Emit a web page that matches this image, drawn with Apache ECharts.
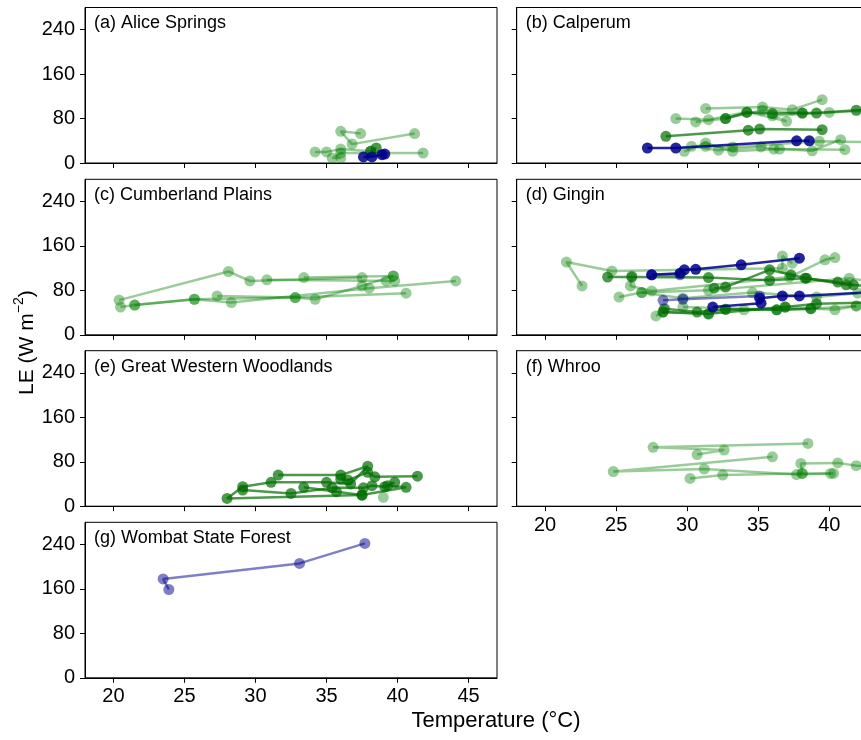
<!DOCTYPE html>
<html>
<head>
<meta charset="utf-8">
<script src="https://cdn.jsdelivr.net/npm/echarts@6/dist/echarts.min.js"></script>
<style>
  html, body { margin: 0; padding: 0; background: #fff; }
  #chart { width: 861px; height: 740px; }
</style>
</head>
<body>
<div id="chart"></div>
<script>
// Daily latent heat flux (LE) against air temperature at seven flux sites.
// Each track is one sequence of days, drawn as a connected line of points [T (°C), LE (W m-2)].

const xTicks = [20, 25, 30, 35, 40, 45];
const yTicks = [0, 80, 160, 240];

const panelTitles = [
  '(a) Alice Springs', '(b) Calperum', '(c) Cumberland Plains', '(d) Gingin',
  '(e) Great Western Woodlands', '(f) Whroo', '(g) Wombat State Forest'
];

// (a) Alice Springs
const aliceLight = [
  [[37.4, 53], [36.0, 57], [36.8, 34], [41.2, 53]],
  [[34.2, 20], [35.0, 20], [36.0, 25], [38.1, 21]],
  [[36.0, 9], [35.4, 9], [36.0, 18], [41.8, 18]]
];
const aliceDark = [[[38.1, 21], [38.5, 27]]];
const aliceBlue = [[[37.6, 11], [38.2, 11], [38.9, 15], [39.1, 16]]];

// (b) Calperum
const calperumLight = [
  [[31.3, 98], [35.3, 101], [37.4, 96], [39.5, 114]],
  [[29.2, 80], [31.5, 78], [34.2, 92], [37.0, 75], [36.0, 85], [40.0, 91], [44.0, 96]],
  [[30.6, 74], [32.7, 80], [35.3, 95], [38.1, 90]],
  [[29.8, 21], [31.3, 36], [33.2, 21], [36.5, 25], [38.8, 22], [40.8, 42]],
  [[30.3, 30], [32.2, 23], [35.2, 29], [36.1, 25], [41.1, 24]],
  [[31.3, 30], [33.2, 29], [39.3, 39], [44.0, 37]]
];
const calperumDark = [
  [[28.5, 48], [34.3, 59], [35.1, 61], [39.5, 60]],
  [[32.7, 80], [34.2, 91], [36.0, 89], [38.1, 90], [39.1, 90], [41.9, 95], [45.0, 98]]
];
const calperumBlue = [[[27.2, 27], [29.2, 27], [37.7, 40], [38.6, 40]]];

// (c) Cumberland Plains
const cumberlandLight = [
  [[20.4, 62.5], [28.1, 114], [29.6, 97], [37.5, 103]],
  [[30.8, 99], [39.8, 97], [39.2, 97]],
  [[20.5, 50], [21.5, 53.5], [25.7, 64], [32.8, 67], [34.2, 64], [37.5, 88], [39.7, 106]],
  [[21.5, 53.5], [25.7, 64], [28.3, 58], [38.0, 84], [44.1, 97]],
  [[27.3, 70], [32.8, 67], [40.6, 75]],
  [[33.4, 103], [39.7, 106]]
];

// (d) Gingin
const ginginLight = [
  [[22.6, 88], [21.5, 131], [24.7, 115], [36.7, 120], [36.7, 142], [37.4, 129]],
  [[26.1, 106], [26.0, 88], [27.5, 79], [37.2, 104], [39.7, 135], [40.4, 139]],
  [[25.2, 68], [26.8, 76], [29.7, 66], [34.6, 76], [39.1, 68], [42.0, 75]],
  [[27.8, 34], [28.3, 41], [31.5, 37], [32.7, 46], [34.0, 45], [36.9, 50], [40.4, 45], [41.9, 52]],
  [[29.7, 50], [36.3, 45], [38.7, 47], [41.9, 52]],
  [[26.8, 76], [31.5, 80], [41.4, 102], [43.0, 96]]
];
const ginginDark = [
  [[24.4, 104], [26.1, 104], [31.5, 103], [35.8, 98], [38.3, 102], [40.6, 95], [41.7, 90]],
  [[28.4, 47], [30.7, 41], [32.7, 46], [36.3, 45], [38.7, 47]],
  [[31.9, 84], [32.7, 86], [35.8, 117], [37.3, 108], [38.4, 102], [41.2, 90], [43.0, 88]],
  [[28.3, 41], [31.5, 38], [36.9, 50], [39.1, 56], [43.0, 58]]
];
const ginginBlueLight = [
  [[28.3, 62], [29.7, 64], [35.1, 70]],
  [[27.5, 108], [29.5, 108]]
];
const ginginBlue = [
  [[27.5, 108], [29.5, 111], [29.8, 117], [30.6, 118], [33.8, 126], [37.9, 138]],
  [[31.8, 50], [35.2, 57], [35.1, 66], [36.7, 70], [37.9, 70], [44.0, 78]]
];

// (e) Great Western Woodlands
const gwwLight = [[[39.0, 16]]];
const gwwDark = [
  [[37.5, 20], [28.0, 14], [29.1, 35], [31.1, 43], [35.0, 43], [36.7, 40], [37.9, 72], [36.0, 56], [31.6, 56]],
  [[29.1, 29], [32.5, 23], [35.4, 33], [37.6, 33], [38.2, 37], [39.1, 35], [39.8, 43]],
  [[33.4, 34], [35.7, 26], [37.5, 20], [40.6, 34], [39.3, 37]],
  [[36.0, 49], [36.5, 47], [37.9, 61], [38.4, 53], [41.4, 54]]
];

// (f) Whroo
const whrooLight = [
  [[38.5, 113], [27.6, 106], [32.6, 101], [30.7, 93]],
  [[36.0, 89], [24.8, 62.5], [31.2, 67], [37.7, 57], [40.1, 59]],
  [[30.2, 50], [32.5, 56], [38.1, 59], [40.3, 59]],
  [[38.1, 59], [38.0, 77], [40.6, 78], [41.9, 73], [44.0, 70]]
];

// (g) Wombat State Forest
const wombatBlueLight = [[[23.9, 159], [23.5, 178], [33.1, 206], [37.7, 242]]];

// ---- styling and layout ----
const FONT = "'Liberation Sans', Arial, Helvetica, sans-serif";
const STYLES = {
  lightGreen: { color: 'rgb(0,128,0)', opacity: 0.4, z: 2 },
  darkGreen:  { color: 'rgb(0,110,0)', opacity: 0.7, z: 3 },
  lightBlue:  { color: 'rgb(0,0,139)', opacity: 0.5, z: 4 },
  darkBlue:   { color: 'rgb(0,0,139)', opacity: 0.85, z: 5 }
};

// panel index -> list of [tracks, style]
const panelTracks = [
  [[aliceLight, 'lightGreen'], [aliceDark, 'darkGreen'], [aliceBlue, 'darkBlue']],
  [[calperumLight, 'lightGreen'], [calperumDark, 'darkGreen'], [calperumBlue, 'darkBlue']],
  [[cumberlandLight, 'lightGreen']],
  [[ginginLight, 'lightGreen'], [ginginDark, 'darkGreen'], [ginginBlueLight, 'lightBlue'], [ginginBlue, 'darkBlue']],
  [[gwwLight, 'lightGreen'], [gwwDark, 'darkGreen']],
  [[whrooLight, 'lightGreen']],
  [[wombatBlueLight, 'lightBlue']]
];

const colLeft = [85, 516.7];
const rowTop = [7.5, 179.3, 350.7, 522.3];
const PW = 412, PH = 155.5;

const grids = [], xAxes = [], yAxes = [], series = [], graphics = [];

panelTitles.forEach((title, i) => {
  const col = i % 2, row = Math.floor(i / 2);
  const left = colLeft[col], top = rowTop[row];
  grids.push({
    left: left, top: top, width: PW, height: PH,
    show: true, borderColor: '#000', borderWidth: 1, backgroundColor: 'transparent',
    outerBoundsMode: 'none', containLabel: false
  });
  const showX = (i === 5 || i === 6);
  const showY = (col === 0);
  xAxes.push({
    type: 'value', gridIndex: i, min: 18, max: 47,
    axisLine: { show: true, onZero: false, lineStyle: { color: '#000', width: 1 } },
    axisTick: { show: true, length: 5, customValues: xTicks, lineStyle: { color: '#000', width: 1 } },
    axisLabel: { show: showX, customValues: xTicks, margin: 9, color: '#000', fontSize: 20, fontFamily: FONT },
    splitLine: { show: false }
  });
  yAxes.push({
    type: 'value', gridIndex: i, min: 0, max: 280,
    axisLine: { show: true, onZero: false, lineStyle: { color: '#000', width: 1 } },
    axisTick: { show: true, length: 5, customValues: yTicks, lineStyle: { color: '#000', width: 1 } },
    axisLabel: { show: showY, customValues: yTicks, margin: 10, color: '#000', fontSize: 20, fontFamily: FONT },
    splitLine: { show: false }
  });
  graphics.push({
    type: 'text', x: left + 9, y: top + 16, z: 10,
    style: { text: title, fill: '#000', font: '18px ' + FONT, align: 'left', verticalAlign: 'middle' }
  });
  panelTracks[i].forEach(([tracks, styleName]) => {
    const st = STYLES[styleName];
    tracks.forEach(track => {
      series.push({
        type: 'line', xAxisIndex: i, yAxisIndex: i, data: track,
        symbol: 'circle', symbolSize: 11, showAllSymbol: true, silent: true, z: st.z,
        lineStyle: { color: st.color, width: 2.5, opacity: st.opacity },
        itemStyle: { color: st.color, opacity: st.opacity },
        emphasis: { disabled: true }
      });
    });
  });
});

// shared axis titles
graphics.push({
  type: 'text', x: 496, y: 721, z: 10,
  style: { text: 'Temperature (°C)', fill: '#000', font: '22px ' + FONT, align: 'center', verticalAlign: 'middle' }
});
graphics.push({
  type: 'text', x: 25, y: 342.6, rotation: Math.PI / 2, z: 10,
  style: {
    text: '{n|LE (W m}{s|−2}{n|)}', align: 'center', verticalAlign: 'middle',
    rich: {
      n: { fontSize: 21, fontFamily: FONT, fill: '#000', lineHeight: 26, verticalAlign: 'bottom' },
      s: { fontSize: 14, fontFamily: FONT, fill: '#000', lineHeight: 26, verticalAlign: 'top' }
    }
  }
});

const chart = echarts.init(document.getElementById('chart'), null, { renderer: 'canvas' });
chart.setOption({
  animation: false,
  backgroundColor: '#fff',
  grid: grids,
  xAxis: xAxes,
  yAxis: yAxes,
  series: series,
  graphic: graphics
});
</script>
</body>
</html>
